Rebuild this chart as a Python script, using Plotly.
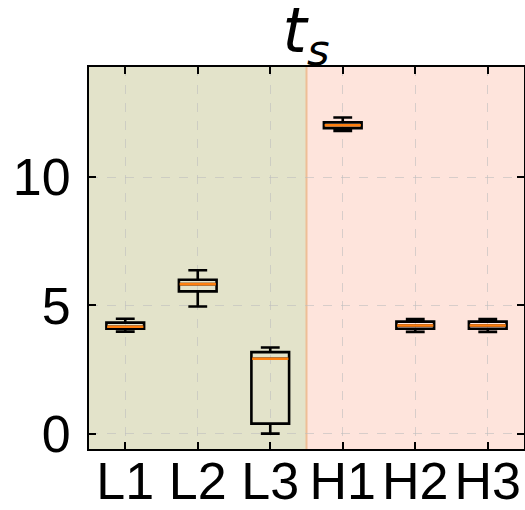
import plotly.graph_objects as go

categories = ["L1", "L2", "L3", "H1", "H2", "H3"]
lower_whisker = [3.98, 4.96, 0.00, 11.81, 3.97, 3.97]
q1_values = [4.09, 5.55, 0.39, 11.91, 4.09, 4.09]
median_values = [4.17, 5.83, 2.92, 12.03, 4.22, 4.22]
q3_values = [4.33, 6.00, 3.18, 12.14, 4.37, 4.37]
upper_whisker = [4.48, 6.37, 3.36, 12.33, 4.47, 4.47]
y_ticks = [0, 5, 10]

xpos = list(range(len(categories)))
n = len(categories)
split = 2.5

fig = go.Figure()

fig.add_trace(go.Box(
    x=xpos, q1=q1_values, median=median_values, q3=q3_values,
    lowerfence=lower_whisker, upperfence=upper_whisker,
    width=0.52, whiskerwidth=0.5,
    line=dict(color="black", width=2.6),
    fillcolor="rgba(0,0,0,0)", boxpoints=False, showlegend=False,
    hoverinfo="skip",
))
fig.add_trace(go.Box(
    x=xpos, q1=median_values, median=median_values, q3=median_values,
    lowerfence=median_values, upperfence=median_values,
    width=0.5, whiskerwidth=0,
    line=dict(color="#ff7f0e", width=2.6),
    fillcolor="rgba(0,0,0,0)", boxpoints=False, showlegend=False,
    hoverinfo="skip",
))

fig.add_shape(type="rect", xref="x", yref="paper", x0=-0.5, x1=split, y0=0, y1=1,
              fillcolor="rgb(227,227,202)", line_width=0, layer="below")
fig.add_shape(type="rect", xref="x", yref="paper", x0=split, x1=n - 0.5, y0=0, y1=1,
              fillcolor="rgb(254,228,220)", line_width=0, layer="below")
fig.add_shape(type="line", xref="x", yref="paper", x0=split, x1=split, y0=0, y1=1,
              line=dict(color="rgb(238,190,150)", width=2), layer="below")

fig.update_layout(
    width=525, height=510,
    margin=dict(l=89, r=1, t=67, b=61, autoexpand=False),
    paper_bgcolor="white", plot_bgcolor="white",
    font=dict(family="Liberation Sans, Arial, sans-serif", size=52, color="black"),
    title=dict(text="<i>t</i><sub><i>s</i></sub>", x=0.583, xanchor="center",
               y=0.983, yanchor="top",
               font=dict(family="DejaVu Sans", size=62, color="black")),
    boxmode="overlay",
)
fig.update_xaxes(
    range=[-0.5, n - 0.5], tickmode="array", tickvals=xpos, ticktext=categories,
    ticks="inside", ticklen=7, tickwidth=1.5, tickcolor="black",
    showline=True, linecolor="black", linewidth=2, mirror="ticks",
    showgrid=True, gridcolor="rgba(190,190,190,0.6)", griddash="dash", gridwidth=1,
    zeroline=False, ticklabelstandoff=-14, automargin=False,
)
fig.update_yaxes(
    range=[-0.6, 14.3], tickmode="array", tickvals=y_ticks,
    ticks="inside", ticklen=7, tickwidth=1.5, tickcolor="black",
    showline=True, linecolor="black", linewidth=2, mirror="ticks",
    showgrid=True, gridcolor="rgba(190,190,190,0.6)", griddash="dash", gridwidth=1,
    zeroline=False, ticklabelstandoff=6, automargin=False,
)

fig.write_html("out.html")
